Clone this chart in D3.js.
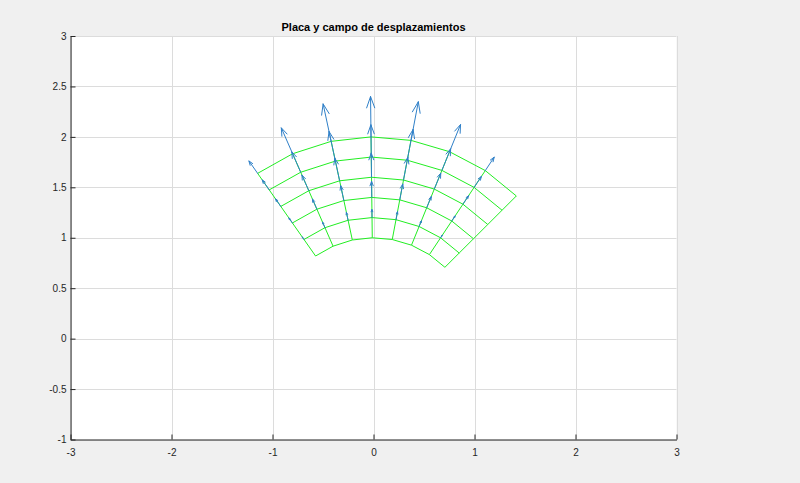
<!DOCTYPE html>
<html>
<head>
<meta charset="utf-8">
<script src="https://cdn.jsdelivr.net/npm/d3@7"></script>
<style>
  html, body { margin: 0; padding: 0; background: #f0f0f0; }
  svg { display: block; }
  text { font-family: "Liberation Sans", Arial, Helvetica, sans-serif; }
</style>
</head>
<body>
<div id="chart"></div>
<script>
// ---- data ----
const title = "Placa y campo de desplazamientos";
const xTicks = [-3, -2, -1, 0, 1, 2, 3];
const yTicks = [-1, -0.5, 0, 0.5, 1, 1.5, 2, 2.5, 3];
const xTickLabels = ["-3", "-2", "-1", "0", "1", "2", "3"];
const yTickLabels = ["-1", "-0.5", "0", "0.5", "1", "1.5", "2", "2.5", "3"];
// mesh nodes: radii and angles (degrees)
const radii = [1.0, 1.2, 1.4, 1.6, 1.8, 2.0];
const angles = [45, 56.4, 67.9, 79.3, 90.7, 102.1, 113.6, 125];
// displacement magnitude (radial direction) per angle line (rows) and radius (cols)
const dispMag = [
  [0, 0.00, 0.00, 0.00, 0.00, 0.00],
  [0, 0.03, 0.06, 0.10, 0.13, 0.16],
  [0, 0.06, 0.12, 0.17, 0.23, 0.29],
  [0, 0.08, 0.16, 0.23, 0.31, 0.39],
  [0, 0.08, 0.16, 0.24, 0.32, 0.40],
  [0, 0.08, 0.15, 0.23, 0.30, 0.38],
  [0, 0.06, 0.11, 0.17, 0.22, 0.28],
  [0, 0.03, 0.06, 0.09, 0.12, 0.15]
];

// ---- layout ----
const W = 800, H = 483;
const L = 70.5, R = 676.5, T = 36, B = 439.5;
const x = d3.scaleLinear().domain([-3, 3]).range([L, R]);
const y = d3.scaleLinear().domain([-1, 3]).range([B, T]);

const svg = d3.select("#chart").append("svg").attr("width", W).attr("height", H);
svg.append("rect").attr("width", W).attr("height", H).attr("fill", "#f0f0f0");
svg.append("rect").attr("x", L).attr("y", T).attr("width", R - L).attr("height", B - T).attr("fill", "#ffffff");

// grid
const grid = svg.append("g").attr("stroke", "#dcdcdc").attr("stroke-width", 1);
grid.selectAll("line.gx").data(xTicks).enter().append("line")
  .attr("x1", d => Math.round(x(d)) + 0.5).attr("x2", d => Math.round(x(d)) + 0.5)
  .attr("y1", T).attr("y2", B);
grid.selectAll("line.gy").data(yTicks).enter().append("line")
  .attr("y1", d => Math.round(y(d)) + 0.5).attr("y2", d => Math.round(y(d)) + 0.5)
  .attr("x1", L).attr("x2", R);

// mesh
const toXY = (r, a) => [r * Math.cos(a * Math.PI / 180), r * Math.sin(a * Math.PI / 180)];
const line = d3.line().x(d => x(d[0])).y(d => y(d[1]));
const mesh = svg.append("g").attr("fill", "none").attr("stroke", "#22ee22").attr("stroke-width", 1);
radii.forEach(r => {
  mesh.append("path").attr("d", line(angles.map(a => toXY(r, a))));
});
angles.forEach(a => {
  mesh.append("path").attr("d", line(radii.map(r => toXY(r, a))));
});

// quiver arrows
const arrows = svg.append("g").attr("fill", "none").attr("stroke", "#2f80c8").attr("stroke-width", 1)
  .attr("stroke-linecap", "round").attr("stroke-linejoin", "round");
angles.forEach((a, i) => {
  radii.forEach((r, j) => {
    const m = dispMag[i][j];
    if (m <= 0) return;
    const [bx, by] = toXY(r, a);
    const ux = m * Math.cos(a * Math.PI / 180), uy = m * Math.sin(a * Math.PI / 180);
    const tx = bx + ux, ty = by + uy;
    const hl = 0.28, hw = 0.10;
    const h1 = [tx - hl * ux - hw * (-uy), ty - hl * uy - hw * ux];
    const h2 = [tx - hl * ux + hw * (-uy), ty - hl * uy + hw * ux];
    arrows.append("path").attr("d", line([[bx, by], [tx, ty]]));
    arrows.append("path").attr("d", line([h1, [tx, ty], h2]));
  });
});

// axes
const axisColor = "#262626";
const xAxis = d3.axisBottom(x).tickValues(xTicks).tickFormat((d, i) => xTickLabels[i]).tickSizeInner(-5).tickSizeOuter(0).tickPadding(9);
const yAxis = d3.axisLeft(y).tickValues(yTicks).tickFormat((d, i) => yTickLabels[i]).tickSizeInner(-5).tickSizeOuter(0).tickPadding(9);
const gx = svg.append("g").attr("transform", `translate(0,${B})`).call(xAxis);
const gy = svg.append("g").attr("transform", `translate(${L},0)`).call(yAxis);
[gx, gy].forEach(g => {
  g.select(".domain").attr("stroke", axisColor).attr("stroke-width", 1);
  g.selectAll(".tick line").attr("stroke", axisColor);
  g.selectAll(".tick text").attr("fill", axisColor).style("font-size", "10px")
    .style("font-family", "'Liberation Sans', Arial, sans-serif");
});
gy.selectAll(".tick text").attr("dx", "0").attr("x", -4);

// title
svg.append("text").attr("x", (L + R) / 2).attr("y", 31).attr("text-anchor", "middle")
  .style("font-size", "11px").style("font-weight", "bold").attr("fill", "#000")
  .text(title);
</script>
</body>
</html>
